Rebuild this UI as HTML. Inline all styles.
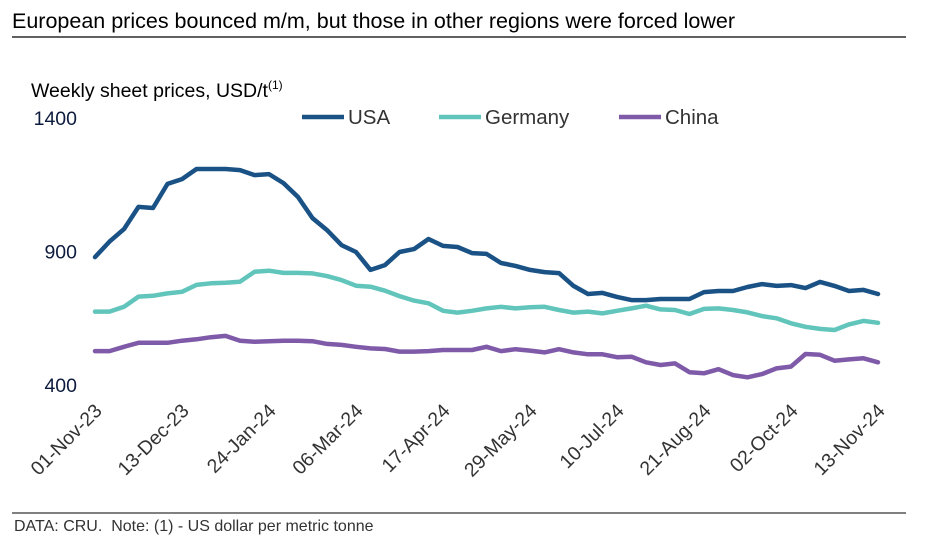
<!DOCTYPE html>
<html><head><meta charset="utf-8"><style>
body{margin:0;background:#fff;width:934px;height:557px;overflow:hidden;font-family:"Liberation Sans",Arial,sans-serif}
svg{display:block}
</style></head><body>
<svg id="chart" width="934" height="557" font-family="Liberation Sans, Arial, sans-serif">
<text x="12" y="28" font-size="21.5" fill="#000">European prices bounced m/m, but those in other regions were forced lower</text>
<line x1="12" y1="37" x2="906" y2="37" stroke="#000" stroke-width="1.3"/>
<text x="31" y="97" font-size="19.5" fill="#000">Weekly sheet prices, USD/t<tspan font-size="12" dy="-8">(1)</tspan></text>
<g id="yticks"></g>
<g id="legend"></g>
<g id="series"></g>
<g id="xticks"></g>
<line x1="12" y1="513" x2="906" y2="513" stroke="#000" stroke-width="1"/>
<text x="14" y="531" font-size="16" fill="#333" xml:space="preserve">DATA: CRU.  Note: (1) - US dollar per metric tonne</text>
</svg>
<script>
const xLabels=["01-Nov-23","13-Dec-23","24-Jan-24","06-Mar-24","17-Apr-24","29-May-24","10-Jul-24","21-Aug-24","02-Oct-24","13-Nov-24"];
const yTicks=[400,900,1400];
const usa=[879,937,984,1067,1063,1153,1171,1209,1209,1209,1205,1186,1190,1156,1104,1025,980,924,898,831,849,898,909,947,921,917,894,891,857,846,831,823,819,771,741,745,730,718,718,722,722,722,748,752,752,767,778,771,774,763,786,771,752,756,741];
const germany=[675,675,693,731,734,743,749,775,781,783,787,824,828,820,820,818,808,793,772,768,753,733,716,706,678,671,678,687,693,687,691,693,681,671,675,668,678,687,697,683,681,666,685,687,681,672,658,650,631,618,610,606,627,640,633];
const china=[527,527,543,558,558,558,566,571,579,584,566,562,564,566,566,564,554,550,543,537,535,525,525,527,531,531,531,543,527,534,529,522,534,522,515,515,504,506,485,475,481,448,444,459,437,429,441,462,469,516,513,491,496,500,485];
const seriesNames=["USA","Germany","China"];
const seriesColors=["#1a5286","#62c5bb","#7f5aa8"];
const NS="http://www.w3.org/2000/svg";
const x0=95,x1=878,n=usa.length;
const xs=i=>x0+(x1-x0)*i/(n-1);
const ys=v=>385-(v-400)*(385-118)/1000;
function mk(tag,attrs,parent){const e=document.createElementNS(NS,tag);for(const k in attrs)e.setAttribute(k,attrs[k]);parent.appendChild(e);return e;}
const yg=document.getElementById('yticks');
yTicks.forEach(t=>{const e=mk('text',{x:77,y:ys(t)+7,'text-anchor':'end','font-size':19.5,fill:'#0d1b3e'},yg);


e.textContent=t;});
const sg=document.getElementById('series');
[usa,germany,china].forEach((d,k)=>{const p=mk('polyline',{points:d.map((v,i)=>xs(i).toFixed(1)+','+ys(v).toFixed(1)).join(' '),fill:'none',stroke:seriesColors[k],'stroke-width':4.5,'stroke-linejoin':'round','stroke-linecap':'round'},sg);

});
const lg=document.getElementById('legend');
const lx=[302,439,619];
seriesNames.forEach((s,k)=>{const g=mk('g',{},lg);


mk('line',{x1:lx[k],y1:117,x2:lx[k]+42,y2:117,stroke:seriesColors[k],'stroke-width':4.5},g);
const t=mk('text',{x:lx[k]+46,y:124,'font-size':20.5,fill:'#333'},g);t.textContent=s;});
const xg=document.getElementById('xticks');
xLabels.forEach((l,j)=>{const x=xs(j*6)+8,y=412;const t=mk('text',{x:x,y:y,'text-anchor':'end','font-size':19.5,fill:'#333',transform:`rotate(-45 ${x} ${y})`},xg);


t.textContent=l;});
</script>
</body></html>
